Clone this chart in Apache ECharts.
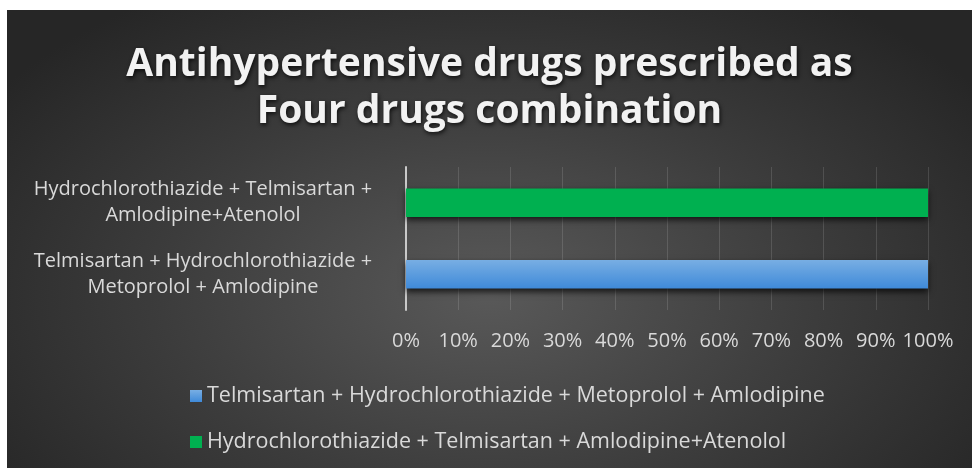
<!DOCTYPE html>
<html>
<head>
<meta charset="utf-8">
<script src="https://cdn.jsdelivr.net/npm/echarts@6/dist/echarts.min.js"></script>
<style>
  html, body { margin: 0; padding: 0; background: #ffffff; width: 972px; height: 468px; overflow: hidden; }
  #chart {
    position: absolute; left: 7px; top: 10px; width: 965px; height: 458px;
    background: radial-gradient(ellipse 62% 78% at 50% 62%, #595959 0%, #3c3c3c 55%, #262626 100%);
  }
</style>
</head>
<body>
<div id="chart"></div>
<script>
// Drug combinations (bottom to top on the category axis)
const categories = [
  'Telmisartan + Hydrochlorothiazide + Metoprolol + Amlodipine',
  'Hydrochlorothiazide + Telmisartan + Amlodipine+Atenolol'
];
// Wrapped axis label text for each combination
const categoryLabels = [
  'Telmisartan + Hydrochlorothiazide +\nMetoprolol + Amlodipine',
  'Hydrochlorothiazide + Telmisartan +\nAmlodipine+Atenolol'
];
// Share of prescriptions (%) for each combination
const valuesMetoprololCombo = [100, '-'];
const valuesAtenololCombo = ['-', 100];
const percentTicks = [0, 10, 20, 30, 40, 50, 60, 70, 80, 90, 100];

const textFont = '"Open Sans", "Noto Sans", sans-serif';
const chart = echarts.init(document.getElementById('chart'));

chart.setOption({
  backgroundColor: 'transparent',
  animation: false,
  title: {
    text: 'Antihypertensive drugs prescribed as\nFour drugs combination',
    left: 'center',
    top: 31,
    padding: 0,
    textStyle: {
      color: '#f2f2f2',
      fontFamily: textFont,
      fontWeight: 'bold',
      fontSize: 39,
      lineHeight: 47,
      textShadowColor: 'rgba(0,0,0,0.75)',
      textShadowBlur: 4,
      textShadowOffsetX: 1,
      textShadowOffsetY: 2
    }
  },
  legend: {
    orient: 'vertical',
    left: 178,
    top: 370,
    itemWidth: 12,
    itemHeight: 12,
    itemGap: 24,
    icon: 'rect',
    data: [categories[0], categories[1]],
    textStyle: {
      color: '#d9d9d9',
      fontFamily: textFont,
      fontSize: 21.5,
      lineHeight: 22,
      padding: [0, 0, 0, 0]
    }
  },
  grid: { left: 399, right: 44, top: 157, bottom: 158, containLabel: false },
  xAxis: {
    type: 'value',
    min: percentTicks[0],
    max: percentTicks[percentTicks.length - 1],
    interval: 10,
    axisLine: { show: false },
    axisTick: { show: false },
    splitLine: { show: true, lineStyle: { color: 'rgba(255,255,255,0.13)', width: 1 } },
    axisLabel: {
      color: '#d9d9d9',
      fontFamily: textFont,
      fontSize: 20,
      margin: 21,
      formatter: v => v + '%'
    }
  },
  yAxis: {
    type: 'category',
    data: categories,
    axisLine: { show: true, lineStyle: { color: '#c9c9c9', width: 2 } },
    axisTick: { show: false },
    splitLine: { show: false },
    axisLabel: {
      color: '#d9d9d9',
      fontFamily: textFont,
      fontSize: 20,
      lineHeight: 26,
      align: 'center',
      margin: 203,
      formatter: (v, i) => categoryLabels[i]
    }
  },
  series: [
    {
      name: categories[0],
      type: 'bar',
      stack: 'share',
      data: valuesMetoprololCombo,
      barCategoryGap: '60%',
      itemStyle: {
        color: new echarts.graphic.LinearGradient(0, 0, 0, 1, [
          { offset: 0, color: '#78aee3' },
          { offset: 1, color: '#3f8ad9' }
        ]),
        shadowColor: 'rgba(0,0,0,0.7)',
        shadowBlur: 6,
        shadowOffsetY: 3
      }
    },
    {
      name: categories[1],
      type: 'bar',
      stack: 'share',
      data: valuesAtenololCombo,
      barCategoryGap: '60%',
      itemStyle: {
        color: '#00b050',
        shadowColor: 'rgba(0,0,0,0.7)',
        shadowBlur: 6,
        shadowOffsetY: 3
      }
    }
  ]
});
</script>
</body>
</html>
